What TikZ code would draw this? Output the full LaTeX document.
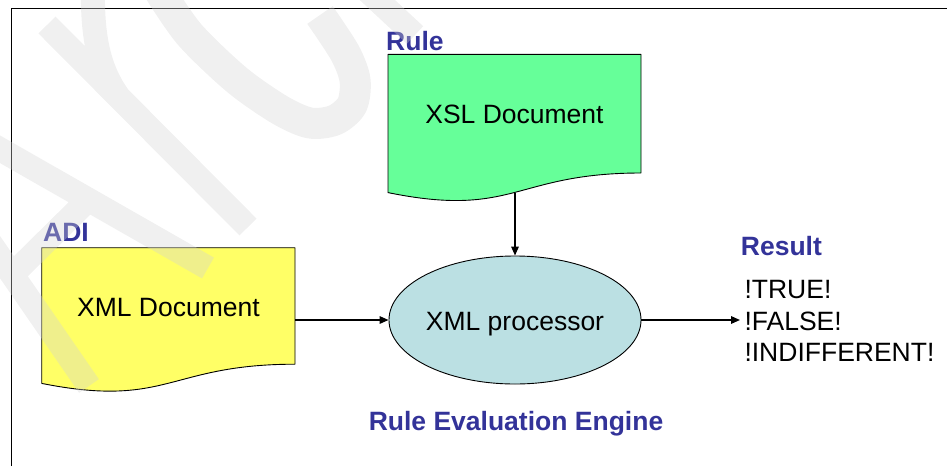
\documentclass[tikz,border=0pt]{standalone}
\usepackage{fontspec}
\setmainfont{Liberation Sans}
\usetikzlibrary{arrows.meta,shapes.geometric}
\definecolor{tagblue}{HTML}{333399}
\definecolor{xslgreen}{HTML}{66FF99}
\definecolor{xmlyellow}{HTML}{FFFF66}
\definecolor{procblue}{HTML}{BBE0E3}
\begin{document}
\begin{tikzpicture}[x=1pt,y=-1pt,
  txt/.style={font=\fontsize{26.5}{31.7}\selectfont, inner sep=0pt},
  headtag/.style={font=\fontsize{26.5}{31.7}\selectfont\bfseries, inner sep=0pt, text=tagblue},
  docshape/.style={draw=black, line width=0.9pt, line join=round},
  flow/.style={draw=black, line width=1.6pt, -{Triangle[length=9pt,width=7.5pt]}},
  watermark/.style={draw=black!17, draw opacity=0.35, line cap=butt, line join=round}]
\useasboundingbox (0,0) rectangle (947,466);

% page frame
\draw[line width=1.3pt] (11.7,466) -- (11.7,8.3) -- (947,8.3);

% document shapes
\path[docshape, fill=xslgreen] (388,54.3) -- (641,54.3) -- (641,173)
  .. controls (514.5,173) and (514.5,218.4) .. (388,192.6) -- cycle;
\path[docshape, fill=xmlyellow] (41.7,247.7) -- (295,247.7) -- (295,364.2)
  .. controls (168.35,364.2) and (168.35,408.6) .. (41.7,383.4) -- cycle;

\node[txt, anchor=base] (xsl) at (514.5,123.3) {XSL Document};
\node[txt, anchor=base] (xml) at (168.4,316.7) {XML Document};

% processor
\node[ellipse, txt, draw=black, line width=0.9pt, fill=procblue,
      minimum width=251.4pt, minimum height=128pt,
      text height=22pt, text depth=2pt] (proc) at (515,320) {XML processor};

% headings
\node[headtag, anchor=base west] (rule) at (386,50.7) {Rule};
\node[headtag, anchor=base west] (adi) at (43,241.7) {ADI};
\node[headtag, anchor=base west] (result) at (740.7,255) {Result};
\node[headtag, anchor=base] (engine) at (516,430) {Rule Evaluation Engine};

% possible results
\node[txt, anchor=base west] (res1) at (744.3,298.5) {!TRUE!};
\node[txt, anchor=base west] (res2) at (744.3,330) {!FALSE!};
\node[txt, anchor=base west] (res3) at (744.3,361.5) {!INDIFFERENT!};

% connectors
\coordinate (xslfoot) at (515,192.6);
\coordinate (xmlside) at (295,320);
\coordinate (resend) at (740,320);
\draw[flow] (xslfoot) -- (proc.north);
\draw[flow] (xmlside) -- (proc.west);
\draw[flow] (proc.east) -- (resend);

% faint watermark lettering
\begin{scope}[watermark]
\draw[line width=24pt]
  (-123,79) -- (89,386) (-123,79) -- (208,268) (11,276) -- (88,200)
  (47,25) -- (248,227) (118,96) .. controls (100,70) and (92,40) .. (93,-12)
  (345,-30) -- (415,35);
\draw[line width=31pt] plot[smooth] coordinates {(160,-8) (190,35) (237,80)
  (280,110) (310,123) (335,120) (352,105) (355,80) (345,53) (320,15)};
\end{scope}
\end{tikzpicture}
\end{document}
